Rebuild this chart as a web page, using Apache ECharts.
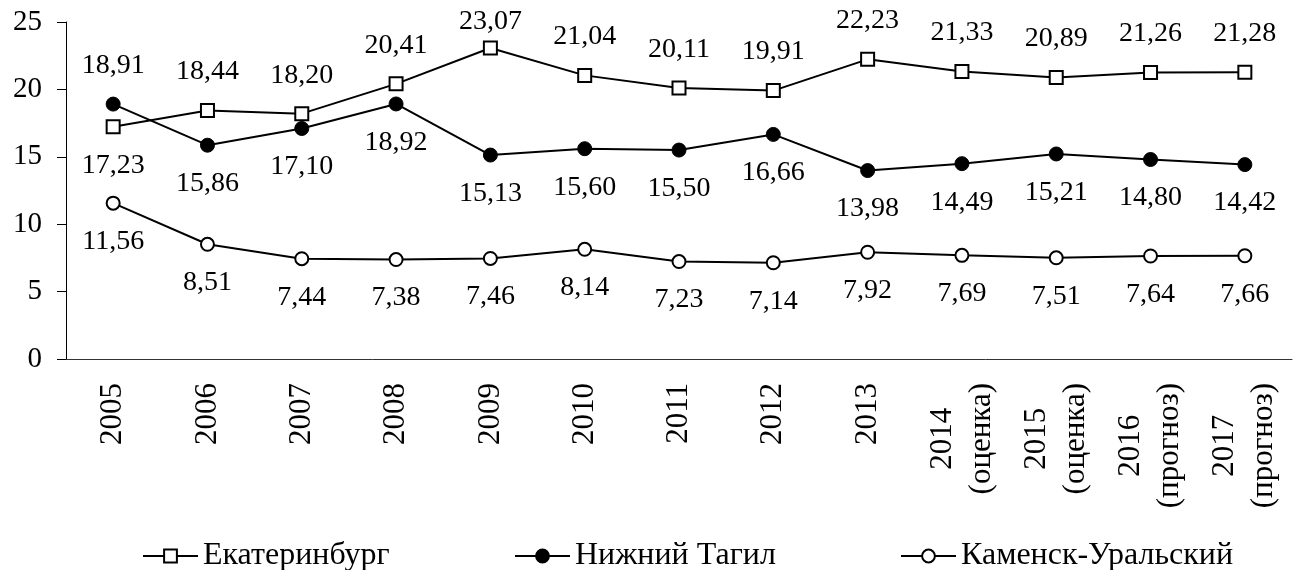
<!DOCTYPE html>
<html>
<head>
  <meta charset="utf-8">
  <script src="https://cdn.jsdelivr.net/npm/echarts@6.0.0/dist/echarts.min.js"></script>
  <style>html, body { margin: 0; padding: 0; background: #fff; }</style>
</head>
<body>
  <div id="chart" style="width: 1300px; height: 570px;"></div>
  <script>
    // данные
    var years = ['2005', '2006', '2007', '2008', '2009', '2010', '2011', '2012', '2013',
      '2014\n(оценка)', '2015\n(оценка)', '2016\n(прогноз)', '2017\n(прогноз)'];
    var ekb = [17.23, 18.44, 18.20, 20.41, 23.07, 21.04, 20.11, 19.91, 22.23, 21.33, 20.89, 21.26, 21.28];
    var tagil = [18.91, 15.86, 17.10, 18.92, 15.13, 15.60, 15.50, 16.66, 13.98, 14.49, 15.21, 14.80, 14.42];
    var kamensk = [11.56, 8.51, 7.44, 7.38, 7.46, 8.14, 7.23, 7.14, 7.92, 7.69, 7.51, 7.64, 7.66];
    var names = ['Екатеринбург', 'Нижний Тагил', 'Каменск-Уральский'];

    var font = "'Liberation Serif', 'Times New Roman', serif";
    var chart = echarts.init(document.getElementById('chart'));

    function fmt(p) {
      return p.value.toFixed(2).replace('.', ',');
    }
    // позиция подписи: для 2005 года подписи поменяны местами
    function withPos(arr, first, rest) {
      return arr.map(function (v, i) {
        return { value: v, label: { position: i === 0 ? first : rest } };
      });
    }

    var labelBase = {
      show: true,
      formatter: fmt,
      distance: 17,
      color: '#000',
      fontFamily: font,
      fontSize: 28
    };

    function legendAt(name, left) {
      return {
        data: [name],
        left: left,
        top: 535,
        itemWidth: 55,
        itemHeight: 16,
        itemGap: 8,
        textStyle: { fontFamily: font, fontSize: 32, color: '#000' },
        selectedMode: false
      };
    }

    var ekbData = withPos(ekb, 'bottom', 'top');
    // максимум у верхнего края — подпись прижата ближе к точке
    ekbData[4].label.distance = 5;

    var option = {
      animation: false,
      legend: [
        legendAt(names[0], 137),
        legendAt(names[1], 509),
        legendAt(names[2], 895)
      ],
      grid: {
        left: 66, right: 8, top: 22, bottom: 211,
        containLabel: false,
        outerBoundsMode: 'none'
      },
      xAxis: {
        type: 'category',
        data: years,
        boundaryGap: true,
        axisLine: { lineStyle: { color: '#333', width: 1 } },
        axisTick: { length: 9, lineStyle: { color: '#000' } },
        axisLabel: {
          rotate: 90,
          margin: 24,
          interval: 0,
          color: '#000',
          fontFamily: font,
          fontSize: 31,
          lineHeight: 39,
          formatter: function (v) {
            return v.split('\n').map(function (s) { return '{c|' + s + '}'; }).join('\n');
          },
          rich: {
            c: { align: 'center', fontFamily: font, fontSize: 31, lineHeight: 39, color: '#000' }
          }
        }
      },
      yAxis: {
        type: 'value',
        min: 0,
        max: 25,
        interval: 5,
        splitLine: { show: false },
        axisLine: { show: true, lineStyle: { color: '#000', width: 1 } },
        axisTick: { show: true, length: 9, lineStyle: { color: '#000' } },
        axisLabel: { margin: 24, color: '#000', fontFamily: font, fontSize: 29 }
      },
      series: [
        {
          name: names[0],
          type: 'line',
          data: ekbData,
          symbol: 'rect',
          symbolSize: 13,
          lineStyle: { color: '#000', width: 2 },
          itemStyle: { color: '#fff', borderColor: '#000', borderWidth: 2 },
          label: labelBase
        },
        {
          name: names[1],
          type: 'line',
          data: withPos(tagil, 'top', 'bottom'),
          symbol: 'circle',
          symbolSize: 14,
          lineStyle: { color: '#000', width: 2 },
          itemStyle: { color: '#000', borderColor: '#000', borderWidth: 1 },
          label: labelBase
        },
        {
          name: names[2],
          type: 'line',
          data: withPos(kamensk, 'bottom', 'bottom'),
          symbol: 'circle',
          symbolSize: 13,
          lineStyle: { color: '#000', width: 2 },
          itemStyle: { color: '#fff', borderColor: '#000', borderWidth: 2 },
          label: labelBase
        }
      ]
    };

    chart.setOption(option);
  </script>
</body>
</html>
